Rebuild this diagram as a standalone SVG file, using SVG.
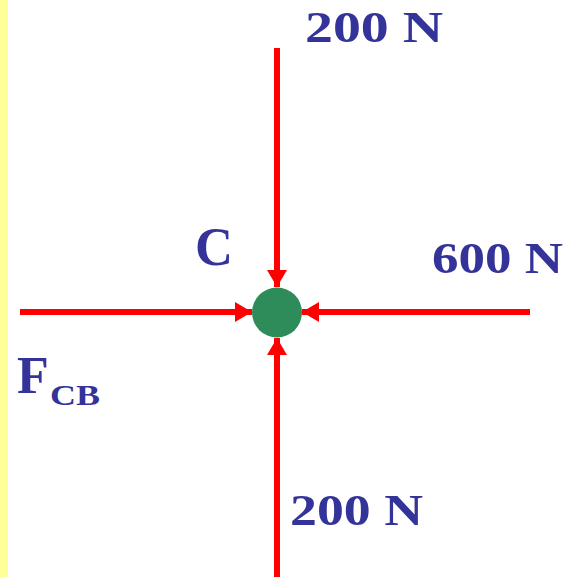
<svg xmlns="http://www.w3.org/2000/svg" width="570" height="577" viewBox="0 0 570 577">
  <defs>
    <marker id="ah" markerUnits="userSpaceOnUse" markerWidth="18" markerHeight="20" refX="17" refY="10" orient="auto">
      <path d="M0,0 L17,10 L0,20 z" fill="#FF0000"/>
    </marker>
  </defs>
  <style>
    .lbl { font-family: "Liberation Serif", "Times New Roman", serif; font-weight: bold; fill: #333399; }
    .force { stroke: #FF0000; stroke-width: 6; fill: none; marker-end: url(#ah); }
  </style>
  <rect x="0" y="0" width="570" height="577" fill="#FFFFFF"/>
  <rect x="0" y="0" width="8" height="577" fill="#FFFF99"/>
  <g id="connectors">
    <line class="force" x1="277" y1="48" x2="277" y2="287"/>
    <line class="force" x1="277" y1="577" x2="277" y2="338"/>
    <line class="force" x1="20" y1="312" x2="252" y2="312"/>
    <line class="force" x1="530" y1="312" x2="302" y2="312"/>
  </g>
  <g id="nodeC">
    <circle cx="277" cy="312.5" r="25" fill="#2E8B5A"/>
    <text class="lbl" x="195" y="265" font-size="54" textLength="38" lengthAdjust="spacingAndGlyphs">C</text>
  </g>
  <g id="label-top">
    <text class="lbl" x="305" y="42" font-size="44" textLength="138" lengthAdjust="spacingAndGlyphs">200 N</text>
  </g>
  <g id="label-right">
    <text class="lbl" x="432" y="273" font-size="44" textLength="131" lengthAdjust="spacingAndGlyphs">600 N</text>
  </g>
  <g id="label-bottom">
    <text class="lbl" x="290" y="525" font-size="44" textLength="133" lengthAdjust="spacingAndGlyphs">200 N</text>
  </g>
  <g id="label-left">
    <text class="lbl" x="17" y="393" font-size="52">F<tspan x="50" y="405" font-size="30" textLength="50" lengthAdjust="spacingAndGlyphs">CB</tspan></text>
  </g>
</svg>
